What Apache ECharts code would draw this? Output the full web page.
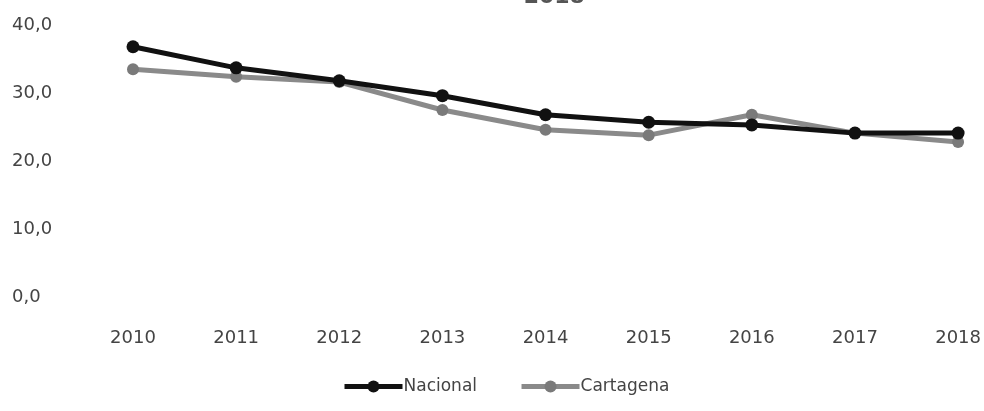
<!DOCTYPE html>
<html>
<head>
<meta charset="utf-8">
<script src="https://cdn.jsdelivr.net/npm/echarts@6/dist/echarts.min.js"></script>
<style>
html,body{margin:0;padding:0;background:#fff;}
#chart{width:984px;height:411px;}
</style>
</head>
<body>
<div id="chart"></div>
<script>
const categories = ['2010','2011','2012','2013','2014','2015','2016','2017','2018'];
const nacional = [36.8, 33.7, 31.8, 29.6, 26.8, 25.7, 25.3, 24.1, 24.1];
const cartagena = [33.5, 32.4, 31.6, 27.5, 24.6, 23.8, 26.8, 24.1, 22.8];
const seriesNames = ['Nacional', 'Cartagena'];
const titleFragment = '– 2018';

const fontFam = '"DejaVu Sans", sans-serif';
const chart = echarts.init(document.getElementById('chart'));
chart.setOption({
  backgroundColor: '#ffffff',
  animation: false,
  title: {
    text: titleFragment,
    left: 500,
    top: -19,
    textStyle: { fontFamily: fontFam, fontSize: 22, fontWeight: 'bold', color: '#555' }
  },
  grid: { left: 133, right: 24, top: 25, bottom: 114, containLabel: false },
  xAxis: {
    type: 'category',
    data: categories,
    boundaryGap: false,
    axisLine: { show: false },
    axisTick: { show: false },
    splitLine: { show: false },
    axisLabel: { margin: 32, color: '#444', fontFamily: fontFam, fontSize: 18 }
  },
  yAxis: {
    type: 'value',
    min: 0, max: 40, interval: 10,
    axisLine: { show: false },
    axisTick: { show: false },
    splitLine: { show: false },
    axisLabel: {
      margin: 121, align: 'left', color: '#444', fontFamily: fontFam, fontSize: 18,
      formatter: v => v.toFixed(1).replace('.', ',')
    }
  },
  legend: {
    data: seriesNames,
    left: 337,
    top: 373,
    itemWidth: 58,
    itemHeight: 15,
    itemGap: 42,
    lineStyle: { width: 5 },
    textStyle: { fontFamily: fontFam, fontSize: 17, color: '#444', padding: [0,0,0,-4] }
  },
  series: [
    {
      name: seriesNames[0], type: 'line', data: nacional,
      symbol: 'circle', symbolSize: 13,
      lineStyle: { color: '#111111', width: 5 },
      itemStyle: { color: '#111111' },
      z: 3
    },
    {
      name: seriesNames[1], type: 'line', data: cartagena,
      symbol: 'circle', symbolSize: 12,
      lineStyle: { color: '#8a8a8a', width: 5 },
      itemStyle: { color: '#7a7a7a' },
      z: 2
    }
  ]
});
</script>
</body>
</html>
